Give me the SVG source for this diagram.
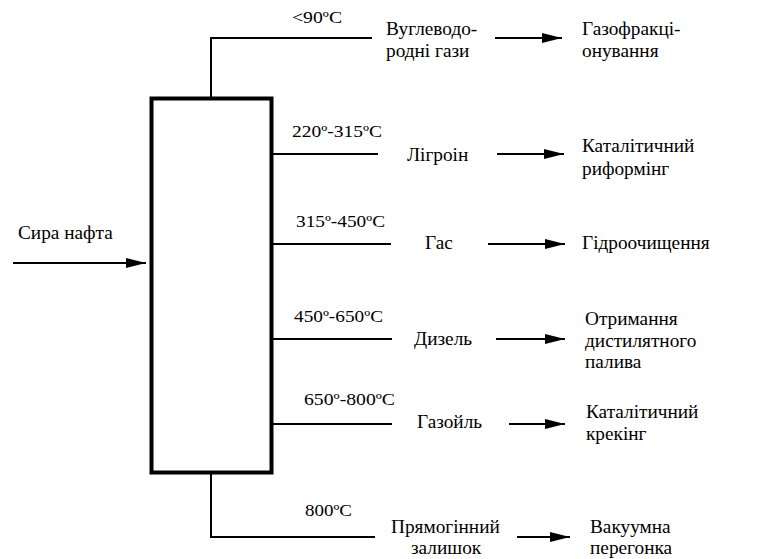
<svg xmlns="http://www.w3.org/2000/svg" width="766" height="559" viewBox="0 0 766 559">
<style>
text{font-family:'Liberation Serif','Times New Roman',serif;font-size:19.3px;fill:#000}
text.tc{font-size:16px}
.ln{stroke:#000;stroke-width:2;fill:none}
.ar{stroke:#000;stroke-width:2;fill:none;marker-end:url(#ah)}
</style>
<defs>
<marker id="ah" markerUnits="userSpaceOnUse" markerWidth="20" markerHeight="12" refX="20" refY="6" orient="auto">
<path d="M0,1 L20,6 L0,11 Z" fill="#000"/>
</marker>
</defs>
<rect width="766" height="559" fill="#fff"/>
<g id="column">
<rect x="151.5" y="98.5" width="120" height="374" fill="#fff" stroke="#000" stroke-width="4"/>
</g>
<g id="connectors">
<line class="ar" x1="13" y1="263" x2="146" y2="263"/>
<polyline class="ln" points="211,97 211,38 372,38"/>
<line class="ar" x1="495" y1="38" x2="562" y2="38"/>
<line class="ln" x1="273" y1="154" x2="378" y2="154"/>
<line class="ar" x1="497" y1="154" x2="564" y2="154"/>
<line class="ln" x1="273" y1="244" x2="391" y2="244"/>
<line class="ar" x1="488" y1="244" x2="565" y2="244"/>
<line class="ln" x1="273" y1="339" x2="392" y2="339"/>
<line class="ar" x1="496" y1="339" x2="565" y2="339"/>
<line class="ln" x1="273" y1="424" x2="392" y2="424"/>
<line class="ar" x1="509" y1="424" x2="565" y2="424"/>
<polyline class="ln" points="211,474 211,537 375,537"/>
<line class="ar" x1="517" y1="537" x2="570" y2="537"/>
</g>
<g id="input"><text x="18" y="239">Сира нафта</text></g>
<g id="t1"><text class="tc" x="292" y="23" textLength="50" lengthAdjust="spacingAndGlyphs">&lt;90ºC</text></g>
<g id="f1"><text x="386" y="35">Вуглеводо-</text><text x="386" y="57">родні гази</text></g>
<g id="p1"><text x="582" y="35">Газофракці-</text><text x="582" y="57">онування</text></g>
<g id="t2"><text class="tc" x="292" y="137" textLength="90" lengthAdjust="spacingAndGlyphs">220º-315ºC</text></g>
<g id="f2"><text x="407" y="161">Лігроін</text></g>
<g id="p2"><text x="582" y="152">Каталітичний</text><text x="582" y="175">риформінг</text></g>
<g id="t3"><text class="tc" x="296" y="227" textLength="89" lengthAdjust="spacingAndGlyphs">315º-450ºC</text></g>
<g id="f3"><text x="425" y="249">Гас</text></g>
<g id="p3"><text x="582" y="249">Гідроочищення</text></g>
<g id="t4"><text class="tc" x="294" y="322" textLength="89" lengthAdjust="spacingAndGlyphs">450º-650ºC</text></g>
<g id="f4"><text x="414" y="345">Дизель</text></g>
<g id="p4"><text x="585" y="325">Отримання</text><text x="585" y="347">дистилятного</text><text x="585" y="368">палива</text></g>
<g id="t5"><text class="tc" x="304" y="405" textLength="91" lengthAdjust="spacingAndGlyphs">650º-800ºC</text></g>
<g id="f5"><text x="417" y="428">Газойль</text></g>
<g id="p5"><text x="586" y="418">Каталітичний</text><text x="586" y="440">крекінг</text></g>
<g id="t6"><text class="tc" x="305" y="516" textLength="47" lengthAdjust="spacingAndGlyphs">800ºC</text></g>
<g id="f6"><text x="391" y="533">Прямогінний</text><text x="411" y="554">залишок</text></g>
<g id="p6"><text x="590" y="533">Вакуумна</text><text x="590" y="554">перегонка</text></g>
</svg>
